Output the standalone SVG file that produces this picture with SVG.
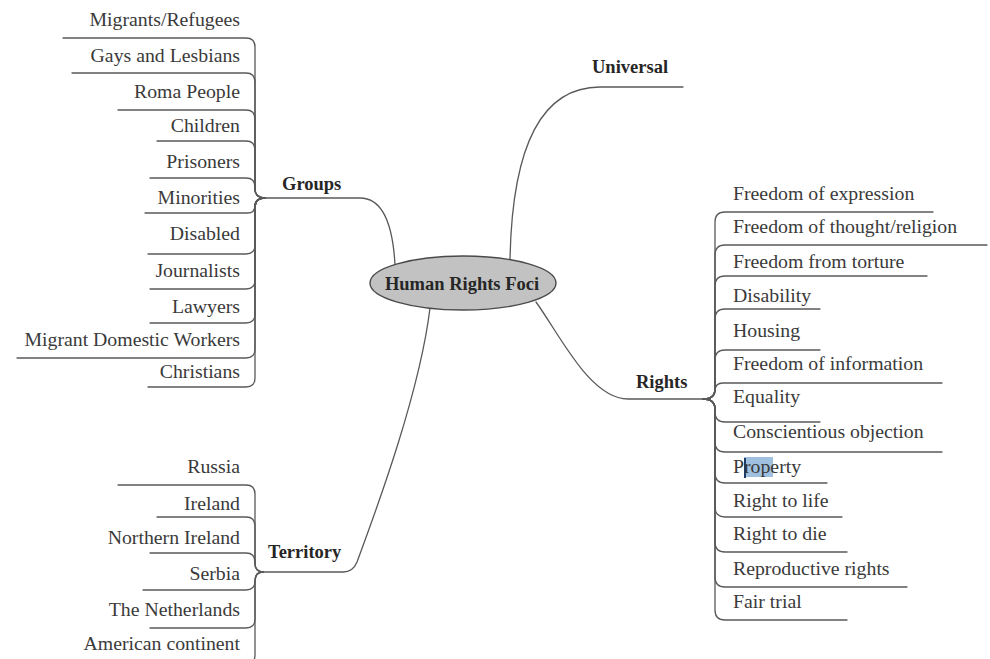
<svg xmlns="http://www.w3.org/2000/svg" width="990" height="659" viewBox="0 0 990 659">
<style>
.bg{fill:#ffffff}
.ln{fill:none;stroke:#595959;stroke-width:1.3;stroke-linecap:round;stroke-linejoin:round}
.t{font-family:"Liberation Serif","Times New Roman",serif;font-size:19.8px;fill:#3a3a3a}
.l{text-anchor:end}
.b{font-family:"Liberation Serif","Times New Roman",serif;font-size:18.5px;font-weight:bold;fill:#262626}
.root{fill:#c2c2c2;stroke:#4a4a4a;stroke-width:1.4}
.hl{fill:#9fc0de}
.cur{fill:#1e3b66}
</style>
<rect class="bg" x="0" y="0" width="990" height="659"/>
<g id="connectors">
  <!-- main branches -->
  <path class="ln" d="M265 198 H360 C384 198 393 228 395 265"/>
  <path class="ln" d="M510 260 C512 150 540 87 600 87 H683"/>
  <path class="ln" d="M536 302 C560 335 590 399 628 399 H703"/>
  <path class="ln" d="M430 308 C420 390 380 500 357 562 Q353 572 343 572 H263"/>
  <!-- Groups children -->
  <path class="ln" d="M63 38 H246 Q255 38 255 47 V189 Q255 198 265 198"/>
  <path class="ln" d="M72 73 H246 Q255 73 255 82 V189 Q255 198 265 198"/>
  <path class="ln" d="M118 110 H246 Q255 110 255 119 V189 Q255 198 265 198"/>
  <path class="ln" d="M157 141 H246 Q255 141 255 150 V189 Q255 198 265 198"/>
  <path class="ln" d="M150 178 H246 Q255 178 255 187 V189 Q255 198 265 198"/>
  <path class="ln" d="M145 213 H247.5 Q255 213 255 205.5 Q255 198 265 198"/>
  <path class="ln" d="M148 254 H246 Q255 254 255 245 V207 Q255 198 265 198"/>
  <path class="ln" d="M150 289 H246 Q255 289 255 280 V207 Q255 198 265 198"/>
  <path class="ln" d="M150 323 H246 Q255 323 255 314 V207 Q255 198 265 198"/>
  <path class="ln" d="M17 358 H246 Q255 358 255 349 V207 Q255 198 265 198"/>
  <path class="ln" d="M148 387 H246 Q255 387 255 378 V207 Q255 198 265 198"/>
  <!-- Territory children -->
  <path class="ln" d="M118 485 H246 Q255 485 255 494 V563 Q255 572 263 572"/>
  <path class="ln" d="M157 517 H246 Q255 517 255 526 V563 Q255 572 263 572"/>
  <path class="ln" d="M150 553 H246 Q255 553 255 562 V563 Q255 572 263 572"/>
  <path class="ln" d="M143 590 H246 Q255 590 255 581 Q255 572 263 572"/>
  <path class="ln" d="M150 628 H246 Q255 628 255 619 V581 Q255 572 263 572"/>
  <path class="ln" d="M90 664 H246 Q255 664 255 655 V581 Q255 572 263 572"/>
  <!-- Rights children -->
  <path class="ln" d="M933 212 H725 Q715 212 715 222 V389 Q715 399 703 399"/>
  <path class="ln" d="M987 245 H725 Q715 245 715 255 V389 Q715 399 703 399"/>
  <path class="ln" d="M927 276 H725 Q715 276 715 286 V389 Q715 399 703 399"/>
  <path class="ln" d="M820 309 H725 Q715 309 715 319 V389 Q715 399 703 399"/>
  <path class="ln" d="M820 350 H725 Q715 350 715 360 V389 Q715 399 703 399"/>
  <path class="ln" d="M942 383 H723 Q715 383 715 391 Q715 399 703 399"/>
  <path class="ln" d="M820 422 H725 Q715 422 715 412 V409 Q715 399 703 399"/>
  <path class="ln" d="M942 452 H725 Q715 452 715 442 V409 Q715 399 703 399"/>
  <path class="ln" d="M827 483 H725 Q715 483 715 473 V409 Q715 399 703 399"/>
  <path class="ln" d="M842 517 H725 Q715 517 715 507 V409 Q715 399 703 399"/>
  <path class="ln" d="M847 552 H725 Q715 552 715 542 V409 Q715 399 703 399"/>
  <path class="ln" d="M907 587 H725 Q715 587 715 577 V409 Q715 399 703 399"/>
  <path class="ln" d="M847 620 H725 Q715 620 715 610 V409 Q715 399 703 399"/>
</g>
<g id="root">
  <ellipse class="root" cx="463" cy="283" rx="93" ry="27"/>
  <text class="b" x="462" y="290" text-anchor="middle" font-size="19">Human Rights Foci</text>
</g>
<g id="universal"><text class="b" x="592" y="73">Universal</text></g>
<g id="groups"><text class="b" x="282" y="190">Groups</text></g>
<g id="territory"><text class="b" x="268" y="558">Territory</text></g>
<g id="rights"><text class="b" x="636" y="388">Rights</text></g>
<g id="group-items">
  <g id="g-migrants"><text class="t l" x="240" y="26">Migrants/Refugees</text></g>
  <g id="g-gays"><text class="t l" x="240" y="62">Gays and Lesbians</text></g>
  <g id="g-roma"><text class="t l" x="240" y="98">Roma People</text></g>
  <g id="g-children"><text class="t l" x="240" y="132">Children</text></g>
  <g id="g-prisoners"><text class="t l" x="240" y="168">Prisoners</text></g>
  <g id="g-minorities"><text class="t l" x="240" y="204">Minorities</text></g>
  <g id="g-disabled"><text class="t l" x="240" y="240">Disabled</text></g>
  <g id="g-journalists"><text class="t l" x="240" y="277">Journalists</text></g>
  <g id="g-lawyers"><text class="t l" x="240" y="313">Lawyers</text></g>
  <g id="g-mdw"><text class="t l" x="240" y="346">Migrant Domestic Workers</text></g>
  <g id="g-christians"><text class="t l" x="240" y="378">Christians</text></g>
</g>
<g id="territory-items">
  <g id="t-russia"><text class="t l" x="240" y="473">Russia</text></g>
  <g id="t-ireland"><text class="t l" x="240" y="510">Ireland</text></g>
  <g id="t-ni"><text class="t l" x="240" y="544">Northern Ireland</text></g>
  <g id="t-serbia"><text class="t l" x="240" y="580">Serbia</text></g>
  <g id="t-nl"><text class="t l" x="240" y="616">The Netherlands</text></g>
  <g id="t-american"><text class="t l" x="240" y="650">American continent</text></g>
</g>
<g id="rights-items">
  <g id="r-expression"><text class="t" x="733" y="200">Freedom of expression</text></g>
  <g id="r-thought"><text class="t" x="733" y="233">Freedom of thought/religion</text></g>
  <g id="r-torture"><text class="t" x="733" y="268">Freedom from torture</text></g>
  <g id="r-disability"><text class="t" x="733" y="302">Disability</text></g>
  <g id="r-housing"><text class="t" x="733" y="337">Housing</text></g>
  <g id="r-information"><text class="t" x="733" y="370">Freedom of information</text></g>
  <g id="r-equality"><text class="t" x="733" y="403">Equality</text></g>
  <g id="r-conscientious"><text class="t" x="733" y="438">Conscientious objection</text></g>
  <g id="r-property">
    <rect class="hl" x="744" y="457" width="29" height="20"/>
    <rect class="cur" x="744" y="458" width="2" height="20"/>
    <text class="t" x="733" y="473">Property</text>
  </g>
  <g id="r-life"><text class="t" x="733" y="507">Right to life</text></g>
  <g id="r-die"><text class="t" x="733" y="540">Right to die</text></g>
  <g id="r-reproductive"><text class="t" x="733" y="575">Reproductive rights</text></g>
  <g id="r-fair"><text class="t" x="733" y="608">Fair trial</text></g>
</g>
</svg>
